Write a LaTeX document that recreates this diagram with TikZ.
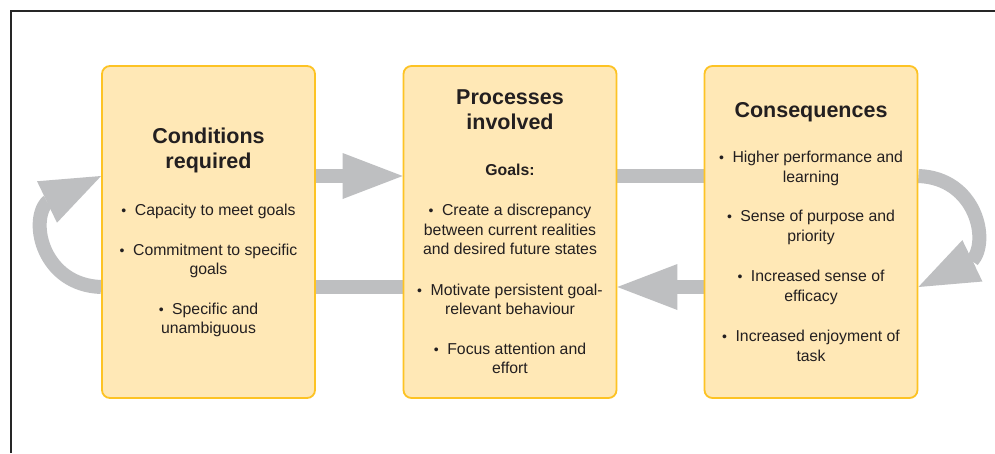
\documentclass[tikz,border=0pt]{standalone}
\usepackage{fontspec}
\setmainfont{Liberation Sans}
\usetikzlibrary{arrows.meta,backgrounds}
\definecolor{boxfill}{HTML}{FFE8B6}
\definecolor{boxline}{HTML}{FDC324}
\definecolor{arrowgray}{HTML}{BEBFC1}
\definecolor{txt}{HTML}{231F20}
\newcommand\bul{{\fontsize{14}{14}\selectfont •}\hspace{8.5pt}}
\begin{document}
\begin{tikzpicture}[x=1pt,y=-1pt,
  box/.style={draw=boxline, line width=1.8pt, fill=boxfill, rounded corners=8pt,
    minimum width=213pt, minimum height=332pt, inner sep=0pt},
  ttl/.style={font=\fontsize{21.5}{25}\selectfont\bfseries, text=txt, anchor=base, inner sep=0pt},
  bd/.style={font=\fontsize{15.8}{19.5}\selectfont, text=txt, anchor=base, inner sep=0pt},
  bdb/.style={bd, font=\fontsize{15.8}{19.5}\selectfont\bfseries},
  bar/.style={draw=arrowgray, line width=14pt},
  arr/.style={bar, line join=round, -{Triangle[length=60pt,width=46pt,line width=0pt 0]}},
  frame/.style={draw=black!85, line width=1.3pt}]
\useasboundingbox (0,0) rectangle (995,453);

\node[box] (b1) at (208.5,232) {};
\node[box] (b2) at (510,232) {};
\node[box] (b3) at (811,232) {};

\coordinate (lb) at (47,202);
\coordinate (rb) at (972,261);

\begin{scope}[on background layer]
\fill[white] (0,0) rectangle (995,453);
\draw[frame] (11,453) -- (11,11) -- (995,11);
\draw[arr] ([yshift=56pt]b1.east) -- ([yshift=56pt]b2.west);
\draw[bar] ([yshift=56pt]b2.east) -- ([yshift=56pt]b3.west);
\draw[arr] ([yshift=-55pt]b3.west) -- ([yshift=-55pt]b2.east);
\draw[bar] ([yshift=-55pt]b2.west) -- ([yshift=-55pt]b1.east);
\draw[arr] ([yshift=-55pt]b1.west) .. controls (43,285) and (29,222) .. (lb) -- ([yshift=56pt]b1.west);
\draw[arr] ([yshift=56pt]b3.east) .. controls (976,178) and (990,241) .. (rb) -- ([yshift=-55pt]b3.east);
\end{scope}

% Box 1
\node[ttl] (t1a) at (208.5,143.3) {Conditions};
\node[ttl] (t1b) at (208.5,168.3) {required};
\node[bd] (c1) at (208.5,215.7) {\bul Capacity to meet goals};
\node[bd] (c2a) at (208.5,255) {\bul Commitment to specific};
\node[bd] (c2b) at (208.5,274) {goals};
\node[bd] (c3a) at (208.5,314.3) {\bul Specific and};
\node[bd] (c3b) at (208.5,333.3) {unambiguous};

% Box 2
\node[ttl] (t2a) at (510,104.3) {Processes};
\node[ttl] (t2b) at (510,129.3) {involved};
\node[bdb] (g) at (510,175.7) {Goals:};
\node[bd] (p1a) at (510,215.7) {\bul Create a discrepancy};
\node[bd] (p1b) at (510,235.7) {between current realities};
\node[bd] (p1c) at (510,254.3) {and desired future states};
\node[bd] (p2a) at (510,295) {\bul Motivate persistent goal-};
\node[bd] (p2b) at (510,314) {relevant behaviour};
\node[bd] (p3a) at (510,354.3) {\bul Focus attention and};
\node[bd] (p3b) at (510,373.3) {effort};

% Box 3
\node[ttl] (t3) at (811,117.3) {Consequences};
\node[bd] (q1a) at (811,162.7) {\bul Higher performance and};
\node[bd] (q1b) at (811,182.3) {learning};
\node[bd] (q2a) at (811,221.7) {\bul Sense of purpose and};
\node[bd] (q2b) at (811,241.7) {priority};
\node[bd] (q3a) at (811,281.7) {\bul Increased sense of};
\node[bd] (q3b) at (811,301) {efficacy};
\node[bd] (q4a) at (811,341.7) {\bul Increased enjoyment of};
\node[bd] (q4b) at (811,361) {task};
\end{tikzpicture}
\end{document}
